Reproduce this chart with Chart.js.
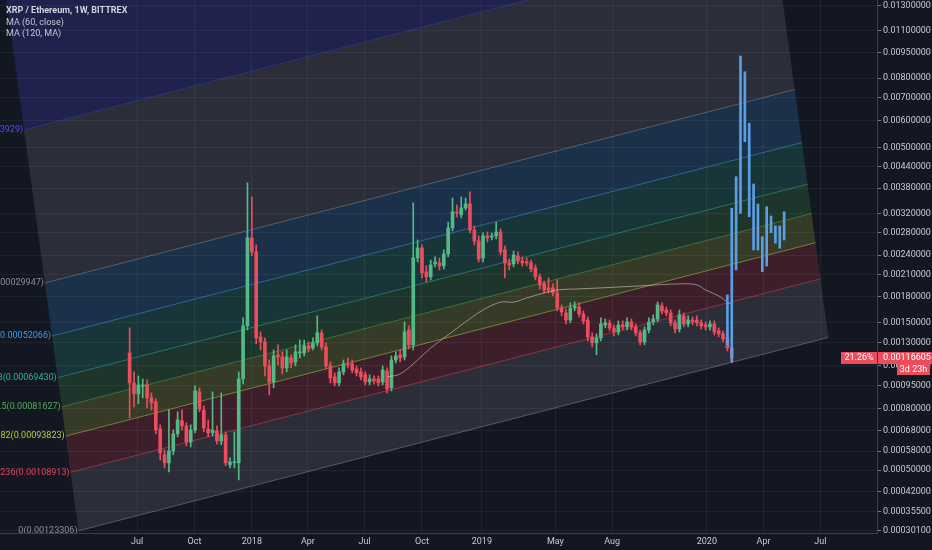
<!DOCTYPE html>
<html><head><meta charset="utf-8">
<script src="https://cdn.jsdelivr.net/npm/chart.js@4.4.1/dist/chart.umd.min.js"></script>
<style>html,body{margin:0;padding:0;background:#131722;overflow:hidden}canvas{display:block}</style>
</head><body>
<canvas id="c" width="932" height="550"></canvas>
<script>
// ---------- DATA ----------
// weekly candles, first week = Mon 2017-06-19 (day 169 counted from 2017-01-01)
const firstWeekDay = 169;
const opens = [.001206,.0009704,.0008951,.0009494,.0009564,.0008689,.0008435,.0006885,.0005638,.0005294,.0005814,.0006630,.0007315,.0007046,.0006234,.0006831,.0009082,.0007943,.0006885,.0006680,.0006781,.0006281,.0006580,.0005211,.0005294,.0005294,.000999,.001463,.002703,.002454,.001352,.001305,.001098,.0009775,.001189,.001172,.001082,.001163,.001130,.001206,.001206,.001268,.001250,.001296,.001392,.001259,.001098,.001014,.0009704,.001051,.001114,.001114,.001074,.001051,.001029,.0009775,.000999,.000999,.0009775,.001058,.0009353,.001146,.001189,.001172,.001421,.001278,.002354,.002523,.002136,.002064,.002259,.002274,.002227,.002421,.002895,.003231,.003166,.003320,.003413,.002854,.002647,.002354,.002741,.002722,.002741,.002816,.002487,.002274,.002259,.002387,.002305,.002290,.002274,.002196,.002064,.001966,.001911,.001911,.001846,.001661,.001603,.001525,.001661,.001672,.001592,.001525,.001352,.001296,.001343,.001473,.001494,.001442,.001401,.001473,.001452,.001504,.001452,.001392,.001305,.001421,.001504,.001536,.001684,.001637,.001603,.001494,.001431,.001570,.001483,.001525,.001525,.001494,.001473,.001452,.001483,.001411,.001382,.001343,.001250];
const highs = [.001442,.001051,.001021,.000999,.0009915,.0009017,.0008624,.0007100,.0005858,.0007943,.0006831,.0007828,.0007943,.0007208,.0007100,.0009494,.0009353,.0008189,.0007369,.0009082,.0007046,.0009017,.0006730,.0005505,.0006730,.001051,.001548,.003938,.003579,.002576,.001401,.001343,.001146,.001232,.001278,.001215,.001232,.001189,.001278,.001323,.001323,.001305,.001343,.001570,.001421,.001296,.001130,.001044,.001082,.001146,.001163,.001146,.001098,.001082,.001051,.001029,.001021,.001021,.001098,.001082,.001180,.001215,.001232,.001504,.001463,.003436,.002665,.002576,.002227,.002321,.002371,.002354,.002487,.003016,.003554,.003389,.003579,.003554,.003703,.002935,.002741,.002797,.002816,.002797,.003016,.002874,.002558,.002338,.002470,.002454,.002371,.002354,.002321,.002243,.002107,.002006,.002049,.001966,.002020,.001696,.001649,.001720,.001732,.001720,.001626,.001559,.001392,.001382,.001548,.001536,.001525,.001473,.001515,.001515,.001548,.001536,.001483,.001421,.001452,.001548,.001581,.001732,.001720,.001672,.001637,.001525,.001637,.001603,.001570,.001559,.001570,.001525,.001504,.001515,.001515,.001442,.001411,.001372,.001278];
const lows = [.0007484,.0008128,.0008312,.0008689,.0008066,.0007943,.0006630,.0005417,.0005088,.0004928,.0005638,.0006479,.0006831,.0006046,.0005999,.0006680,.0007828,.0006730,.0006479,.0006529,.0006140,.0006093,.0005170,.0005088,.0005088,.000462,.0009634,.001421,.002387,.001287,.001232,.001021,.0008886,.0009353,.001106,.001036,.001051,.001082,.001098,.001163,.001180,.001215,.001232,.001268,.001232,.001074,.0009704,.0009494,.0009494,.001029,.001082,.001044,.001021,.0009915,.0009564,.0009564,.0009634,.0009494,.0009564,.0009017,.0009148,.001122,.001130,.001146,.001241,.001232,.002290,.002049,.001993,.002020,.002212,.002165,.002180,.002371,.002835,.003122,.003100,.003274,.002797,.002576,.002290,.002290,.002629,.002665,.002684,.002404,.002049,.002165,.002212,.002259,.002227,.002227,.002136,.002020,.001898,.001846,.001846,.001807,.001626,.001570,.001483,.001494,.001626,.001559,.001483,.001314,.001259,.001189,.001314,.001442,.001411,.001362,.001372,.001421,.001421,.001421,.001362,.001278,.001278,.001392,.001473,.001504,.001592,.001570,.001463,.001392,.001401,.001452,.001452,.001473,.001463,.001431,.001421,.001421,.001372,.001352,.001305,.001223,.001122];
const closes = [.0009704,.0008951,.0009564,.0009564,.0008689,.0008374,.0006831,.0005726,.0005294,.0005814,.0006630,.0007369,.0007046,.0006234,.0006831,.0009148,.0008005,.0006938,.0006680,.0006831,.0006281,.0006580,.0005294,.0005335,.0005335,.000999,.001463,.002703,.002454,.001343,.001305,.001098,.0009775,.001180,.001172,.001082,.001172,.001122,.001215,.001215,.001268,.001241,.001296,.001392,.001259,.001098,.001006,.0009704,.001051,.001114,.001106,.001066,.001044,.001014,.0009775,.000999,.0009845,.0009704,.001066,.0009283,.001146,.001180,.001163,.001401,.001278,.002354,.002523,.002122,.002064,.002243,.002290,.002227,.002421,.002895,.003231,.003209,.003320,.003413,.002854,.002647,.002338,.002741,.002703,.002741,.002816,.002454,.002274,.002243,.002404,.002305,.002274,.002274,.002180,.002064,.001952,.001884,.001884,.001846,.001661,.001615,.001525,.001661,.001684,.001592,.001515,.001352,.001296,.001343,.001483,.001494,.001442,.001401,.001473,.001452,.001504,.001452,.001392,.001305,.001421,.001504,.001536,.001696,.001626,.001603,.001494,.001431,.001581,.001483,.001525,.001504,.001494,.001463,.001452,.001483,.001401,.001382,.001333,.001250,.00116605];

// MA (60, close): week index -> value
const maWeeks  = [59,62,66,69,73,77,81,85,88,91,95,98,103,108,117,126,130,132,135,137,138];
const maValues = [.001014,.001036,.001146,.001250,.001372,.001505,.001637,.001730,.001730,.001781,.001845,.001884,.001898,.001911,.001938,.001966,.001952,.001884,.001807,.001730,.001695];

// projected "bars pattern" (blue)
const patternWeeks = [137,138,139,140,141,142,143,144,145,146,147,148,149,150];
const patternLows  = [.001277,.001132,.002165,.003200,.005209,.003127,.002487,.002487,.002140,.002226,.002802,.002605,.002517,.002665];
const patternHighs = [.001819,.003312,.004109,.009281,.008352,.005900,.003910,.003411,.002726,.003348,.003142,.002934,.002934,.003235];

// axes
const yTickValues = [0.013,0.011,0.0095,0.008,0.007,0.006,0.005,0.0044,0.0038,0.0032,0.0028,0.0024,0.0021,0.0018,0.0015,0.0013,0.0011,0.00095,0.0008,0.00068,0.00058,0.0005,0.00042,0.000355,0.000301];
const xTickDays   = [181,273,365,455,546,638,734,852,943,1095,1186,1277];
const xTickLabels = ['Jul','Oct','2018','Apr','Jul','Oct','2019','May','Aug','2020','Apr','Jul'];

// Fibonacci channel
const fibLevels = [0,0.236,0.382,0.5,0.618,0.786,1,1.618,2.618];
const fibLabels = ['0(0.00123306)','0.236(0.00108913)','0.382(0.00093823)','0.5(0.00081627)','0.618(0.00069430)','0.786(0.00052066)','1(0.00029947)','1.618(-0.00033929)','2.618(-0.00137289)'];
const fibColors = ['#8a8d96','#e8434f','#bccb3c','#4caf50','#2fb59a','#3d9be9','#8a8d96','#4a50f5','#e8434f'];
const fibStart0 = [87, 0.00030076];   // level 0, left end  [day, price]
const fibEnd0   = [1290, 0.0013478];  // level 0, right end
const fibStart1 = [33, 0.0019781];    // level 1, left end

const lastPrice = 0.00116605;
const lastChange = '21.26%';
const barCountdown = '3d 23h';

// ---------- SCALE ----------
const OFF = 0.0001;
const LS = Chart.LogarithmicScale || Chart.registry.getScale('logarithmic');
class OffsetLogScale extends LS {
  static id = 'offsetlog';
  static defaults = LS.defaults;
  configure() {
    super.configure();
    this._s0 = Math.log10(this.min + OFF);
    this._r0 = Math.log10(this.max + OFF) - this._s0;
  }
  getPixelForValue(v) {
    if (v === null || v === undefined || isNaN(v)) return NaN;
    return this.getPixelForDecimal((Math.log10(v + OFF) - this._s0) / this._r0);
  }
  getValueForPixel(p) {
    return Math.pow(10, this._s0 + this.getDecimalForPixel(p) * this._r0) - OFF;
  }
}
Chart.register(OffsetLogScale);

const UP = '#53b987', DOWN = '#eb4d5c', BLUE = '#5a9ee6';
const dayOf = w => firstWeekDay + 7 * w;
const FONT = 'Roboto, sans-serif';

function rgba(hex, a) {
  const n = parseInt(hex.slice(1), 16);
  return `rgba(${n >> 16},${(n >> 8) & 255},${n & 255},${a})`;
}

function fibGeometry(chart) {
  const x = chart.scales.x, y = chart.scales.y;
  const A = [x.getPixelForValue(fibStart0[0]), y.getPixelForValue(fibStart0[1])];
  const B = [x.getPixelForValue(fibEnd0[0]), y.getPixelForValue(fibEnd0[1])];
  const C = [x.getPixelForValue(fibStart1[0]), y.getPixelForValue(fibStart1[1])];
  const dx = C[0] - A[0], dy = C[1] - A[1];
  return fibLevels.map(L => ({ s: [A[0] + L * dx, A[1] + L * dy], e: [B[0] + L * dx, B[1] + L * dy] }));
}

const tvPlugin = {
  id: 'tv',
  beforeDraw(chart) {
    const { ctx, chartArea: a } = chart;
    ctx.save();
    ctx.fillStyle = '#131722';
    ctx.fillRect(0, 0, chart.width, chart.height);
    ctx.beginPath();
    ctx.rect(a.left, a.top, a.right - a.left, a.bottom - a.top);
    ctx.clip();
    const g = fibGeometry(chart);
    for (let k = 0; k < g.length - 1; k++) {
      ctx.beginPath();
      ctx.moveTo(g[k].s[0], g[k].s[1]);
      ctx.lineTo(g[k].e[0], g[k].e[1]);
      ctx.lineTo(g[k + 1].e[0], g[k + 1].e[1]);
      ctx.lineTo(g[k + 1].s[0], g[k + 1].s[1]);
      ctx.closePath();
      ctx.fillStyle = rgba(fibColors[k], k === 7 ? 0.2 : 0.2);
      ctx.fill();
    }
    ctx.lineWidth = 1;
    g.forEach((p, k) => {
      ctx.beginPath();
      ctx.moveTo(p.s[0], p.s[1]);
      ctx.lineTo(p.e[0], p.e[1]);
      ctx.strokeStyle = rgba(fibColors[k], k === 7 ? 0.3 : 0.5);
      ctx.stroke();
    });
    ctx.restore();
  },
  afterDraw(chart) {
    const { ctx, chartArea: a } = chart;
    const y = chart.scales.y;
    ctx.save();
    // fib labels
    ctx.save();
    ctx.beginPath();
    ctx.rect(a.left, a.top, a.right - a.left, a.bottom - a.top);
    ctx.clip();
    ctx.font = `9px ${FONT}`;
    ctx.textAlign = 'right';
    ctx.textBaseline = 'middle';
    fibGeometry(chart).forEach((p, k) => {
      ctx.fillStyle = fibColors[k];
      ctx.fillText(fibLabels[k], p.s[0] - 1, p.s[1]);
    });
    ctx.restore();
    // legend
    ctx.textAlign = 'left';
    ctx.textBaseline = 'middle';
    ctx.fillStyle = '#d1d4dc';
    ctx.font = `bold 9px ${FONT}`;
    ctx.fillText('XRP / Ethereum, 1W, BITTREX', 6, 11);
    ctx.font = `9px ${FONT}`;
    ctx.fillStyle = '#c3c6ce';
    ctx.fillText('MA (60, close)', 6, 22.5);
    ctx.fillText('MA (120, MA)', 6, 33.5);
    // price labels
    const py = Math.round(y.getPixelForValue(lastPrice));
    ctx.fillStyle = DOWN;
    ctx.fillRect(a.right + 1, py - 6, chart.width - a.right - 1, 12);
    ctx.fillRect(a.right - 36, py - 6, 36, 12);
    ctx.fillRect(a.right + 20, py + 6, 33, 11);
    ctx.fillStyle = '#ffffff';
    ctx.font = `9px ${FONT}`;
    ctx.fillText(lastPrice.toFixed(8), a.right + 6, py);
    ctx.textAlign = 'center';
    ctx.fillText(lastChange, a.right - 18, py);
    ctx.fillText(barCountdown, a.right + 36.5, py + 11.5);
    ctx.restore();
  }
};

const candleColor = ctx => (closes[ctx.dataIndex] >= opens[ctx.dataIndex] ? UP : DOWN);

new Chart(document.getElementById('c'), {
  type: 'bar',
  data: {
    datasets: [
      {
        label: 'pattern',
        data: patternWeeks.map((w, i) => ({ x: dayOf(w), y: [patternLows[i], patternHighs[i]] })),
        backgroundColor: BLUE, barThickness: 2, grouped: false, order: 1
      },
      {
        type: 'line', label: 'MA (60, close)',
        data: maWeeks.map((w, i) => ({ x: dayOf(w), y: maValues[i] })),
        borderColor: 'rgba(225,215,195,0.55)', borderWidth: 1, pointRadius: 0, tension: 0.35, fill: false, order: 2
      },
      {
        label: 'body',
        data: opens.map((o, i) => ({ x: dayOf(i), y: [o, closes[i]] })),
        backgroundColor: candleColor, barThickness: 3, minBarLength: 1, grouped: false, order: 3
      },
      {
        label: 'wick',
        data: opens.map((o, i) => ({ x: dayOf(i), y: [lows[i], highs[i]] })),
        backgroundColor: candleColor, barThickness: 1, grouped: false, order: 4
      }
    ]
  },
  options: {
    responsive: false, animation: false, devicePixelRatio: 1,
    layout: { padding: 0 },
    plugins: { legend: { display: false }, tooltip: { enabled: false } },
    scales: {
      x: {
        type: 'linear', min: -39, max: 1368, bounds: 'data', offset: false,
        grid: { color: 'rgba(255,255,255,0.055)', drawTicks: false, offset: false },
        border: { color: '#3a3e4a' },
        ticks: { autoSkip: false, maxRotation: 0, padding: 3, color: '#c8cad0', font: { family: FONT, size: 9 },
          callback: (v, i) => xTickLabels[i] },
        afterBuildTicks: s => { s.ticks = xTickDays.map(v => ({ value: v })); },
        afterFit: s => { s.height = 17; s.paddingLeft = 0; s.paddingRight = 0; }
      },
      y: {
        type: 'offsetlog', position: 'right', min: 0.000295, max: 0.013505, bounds: 'data',
        grid: { color: 'rgba(255,255,255,0.055)', tickLength: 4, tickColor: 'rgba(200,202,208,0.6)' },
        border: { color: '#3a3e4a' },
        ticks: { autoSkip: false, padding: 2, color: '#c8cad0', font: { family: FONT, size: 9 },
          callback: v => Number(v).toFixed(8) },
        afterBuildTicks: s => { s.ticks = yTickValues.map(v => ({ value: v })); },
        afterFit: s => { s.width = 55; s.paddingTop = 0; s.paddingBottom = 0; }
      }
    }
  },
  plugins: [tvPlugin]
});
</script>
</body></html>
